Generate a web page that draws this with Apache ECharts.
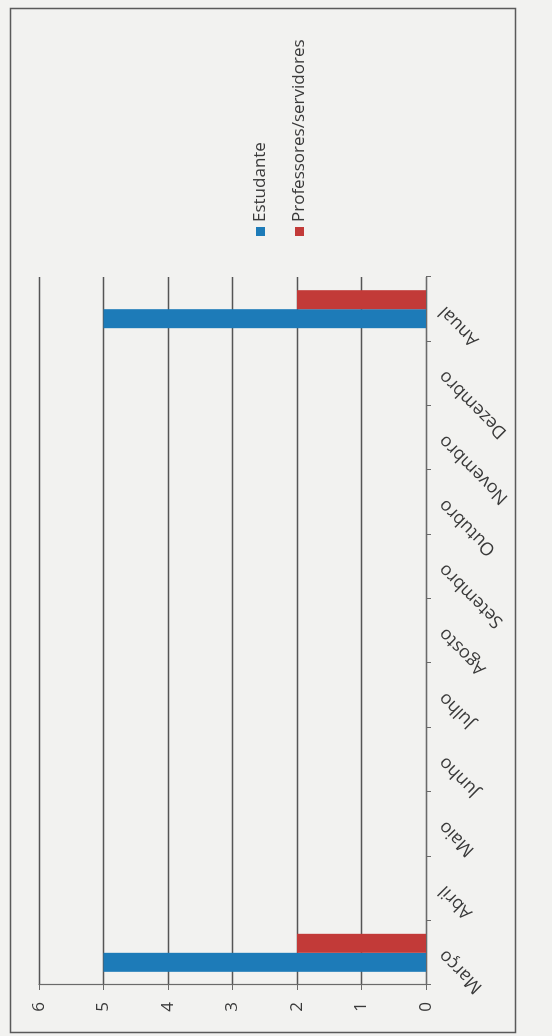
<!DOCTYPE html>
<html>
<head>
<meta charset="utf-8">
<script src="https://cdn.jsdelivr.net/npm/echarts@6/dist/echarts.min.js"></script>
<style>
  html, body { margin: 0; padding: 0; width: 552px; height: 1036px; overflow: hidden; background: #f2f2f0; }
  #wrap { position: absolute; left: 0; top: 0; width: 1036px; height: 552px;
          transform-origin: 0 0; transform: translate(0, 1036px) rotate(-90deg); }
</style>
</head>
<body>
<div id="wrap"></div>
<script>
const categories = ['Março', 'Abril', 'Maio', 'Junho', 'Julho', 'Agosto', 'Setembro', 'Outubro', 'Novembro', 'Dezembro', 'Anual'];
const estudante = [5, 0, 0, 0, 0, 0, 0, 0, 0, 0, 5];
const professores = [2, 0, 0, 0, 0, 0, 0, 0, 0, 0, 2];
const seriesNames = ['Estudante', 'Professores/servidores'];
const valueMin = 0, valueMax = 6, valueStep = 1;

const chart = echarts.init(document.getElementById('wrap'), null, { renderer: 'canvas' });
const font = '"Open Sans", "Liberation Sans", sans-serif';
const textColor = '#3a3a3a';

chart.setOption({
  backgroundColor: '#f2f2f0',
  animation: false,
  textStyle: { fontFamily: font, color: textColor },
  graphic: [{
    type: 'rect', left: 1, top: 8,
    shape: { width: 1024, height: 505 },
    style: { fill: 'none', stroke: '#5a5a5a', lineWidth: 1.5 },
    silent: true
  }],
  legend: {
    orient: 'vertical',
    left: 795, top: 247,
    itemWidth: 9, itemHeight: 9, itemGap: 22,
    icon: 'rect',
    textStyle: { fontFamily: font, fontSize: 17, color: textColor },
    data: seriesNames
  },
  grid: { left: 51, right: 277, top: 39, bottom: 126, containLabel: false },
  xAxis: {
    type: 'category',
    data: categories,
    boundaryGap: true,
    axisLine: { show: true, lineStyle: { color: '#6a6a6a', width: 1.2 } },
    axisTick: { show: true, alignWithLabel: false, length: 5, lineStyle: { color: '#6a6a6a' } },
    axisLabel: { rotate: 45, margin: 16, fontFamily: font, fontSize: 18, color: textColor, interval: 0 },
    splitLine: { show: false }
  },
  yAxis: {
    type: 'value',
    min: valueMin, max: valueMax, interval: valueStep,
    axisLine: { show: true, lineStyle: { color: '#6a6a6a', width: 1.2 } },
    axisTick: { show: true, length: 5, lineStyle: { color: '#6a6a6a' } },
    axisLabel: { margin: 17, fontFamily: font, fontSize: 17, color: textColor },
    splitLine: { show: true, lineStyle: { color: '#555555', width: 1.3 } }
  },
  series: [
    { name: seriesNames[0], type: 'bar', data: estudante, barWidth: 19, barGap: '0%',
      itemStyle: { color: '#1d7bb8' } },
    { name: seriesNames[1], type: 'bar', data: professores, barWidth: 19, barGap: '0%',
      itemStyle: { color: '#c23a38' } }
  ]
});
</script>
</body>
</html>
